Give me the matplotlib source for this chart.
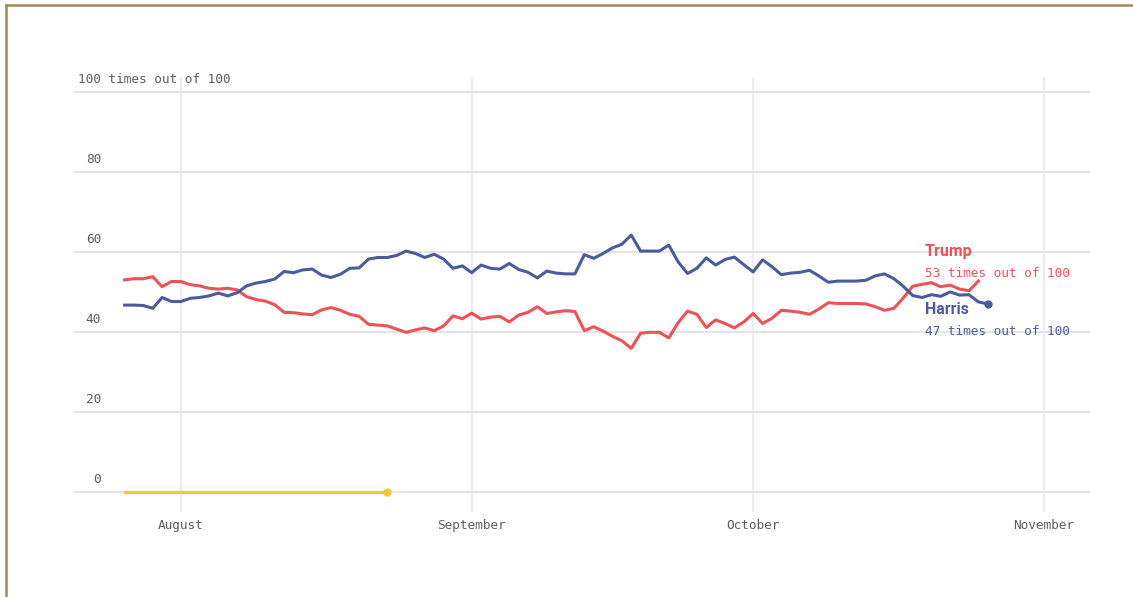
import numpy as np
import pandas as pd
import matplotlib
matplotlib.use("Agg")
import matplotlib.pyplot as plt
import matplotlib.dates as mdates
from matplotlib.lines import Line2D

# ---------------- data ----------------
start_date = "2024-07-26"
harris = [46.8, 46.8, 46.7, 46.0, 48.7, 47.7, 47.7, 48.5, 48.7, 49.1,
          49.8, 49.1, 49.9, 51.6, 52.3, 52.7, 53.3, 55.2, 54.9, 55.6,
          55.8, 54.3, 53.7, 54.5, 56.0, 56.1, 58.3, 58.7, 58.7, 59.2,
          60.3, 59.7, 58.7, 59.5, 58.3, 56.0, 56.6, 54.9, 56.8, 56.0,
          55.8, 57.2, 55.7, 55.0, 53.6, 55.3, 54.8, 54.6, 54.6, 59.4,
          58.5, 59.7, 61.1, 62.0, 64.3, 60.3, 60.3, 60.3, 61.8, 57.6,
          54.7, 56.0, 58.6, 56.8, 58.2, 58.8, 56.9, 55.1, 58.1, 56.4,
          54.4, 54.8, 55.0, 55.5, 54.1, 52.5, 52.8, 52.8, 52.8, 53.0,
          54.1, 54.6, 53.4, 51.5, 49.2, 48.7, 49.4, 49.0, 50.1, 49.3,
          49.4, 47.6, 47.1]
trump = [53.1, 53.4, 53.4, 53.9, 51.4, 52.7, 52.7, 51.9, 51.6, 51.0,
         50.8, 51.0, 50.6, 48.9, 48.2, 47.8, 46.9, 45.0, 44.9, 44.6,
         44.4, 45.6, 46.2, 45.5, 44.5, 44.0, 42.0, 41.8, 41.6, 40.8,
         40.0, 40.6, 41.1, 40.4, 41.6, 44.1, 43.4, 44.8, 43.3, 43.8,
         44.0, 42.6, 44.3, 45.0, 46.4, 44.7, 45.1, 45.4, 45.2, 40.4,
         41.4, 40.3, 39.0, 37.9, 36.0, 39.8, 40.0, 40.0, 38.6, 42.4,
         45.3, 44.5, 41.2, 43.1, 42.2, 41.1, 42.6, 44.7, 42.2, 43.5,
         45.5, 45.3, 45.0, 44.5, 45.8, 47.4, 47.2, 47.2, 47.2, 47.1,
         46.4, 45.5, 46.0, 48.6, 51.5, 52.0, 52.4, 51.4, 51.8, 50.8,
         50.4, 52.8]
other_dates = ["2024-07-26", "2024-08-23"]
other_values = [0, 0]

month_ticks = ["2024-08-01", "2024-09-01", "2024-10-01", "2024-11-01"]
month_labels = ["August", "September", "October", "November"]
y_ticks = [0, 20, 40, 60, 80, 100]
y_labels = ["0", "20", "40", "60", "80", "100 times out of 100"]

# ---------------- style ----------------
RED = "#ee5257"
BLUE = "#4c5b9e"
YELLOW = "#f4c73a"
GRID = "#e2e2e2"
LABEL = "#5e5e5e"
MONO = ["DejaVu Sans Mono"]
SANS = ["Roboto", "DejaVu Sans"]

harris_dates = pd.date_range(start_date, periods=len(harris), freq="D")
trump_dates = pd.date_range(start_date, periods=len(trump), freq="D")
other_d = pd.to_datetime(other_dates)
month_d = pd.to_datetime(month_ticks)

W, H = 1133, 597
fig = plt.figure(figsize=(W / 100, H / 100), dpi=100)
fig.patch.set_facecolor("white")

# axes area in pixels: x 73..1090, y 77..512
ax = fig.add_axes([73 / W, 1 - 512 / H, (1090 - 73) / W, (512 - 77) / H])
ax.set_facecolor("white")
aug1 = pd.Timestamp("2024-08-01")
ax.set_xlim(aug1 - pd.Timedelta(days=11.5), aug1 + pd.Timedelta(days=96.9))
ax.set_ylim(-4.9, 103.8)
for s in ax.spines.values():
    s.set_visible(False)
ax.set_xticks([])
ax.set_yticks([])

for yv in y_ticks:
    ax.axhline(yv, color=GRID, lw=1.3, zorder=0)
for d in month_d:
    ax.axvline(d, color="#e8e8e8", lw=1.1, zorder=0)

# y labels
ytr = ax.get_yaxis_transform()
for yv, lab in zip(y_ticks, y_labels):
    if yv == 100:
        ax.text(0.005, yv + 3.2, lab, transform=ytr, ha="left", va="center",
                fontsize=9.2, color=LABEL, family=MONO)
    else:
        ax.text(0.0275, yv + 3.2, lab, transform=ytr, ha="right", va="center",
                fontsize=9.2, color=LABEL, family=MONO)

# month labels
xtr = ax.get_xaxis_transform()
for d, lab in zip(month_d, month_labels):
    ax.text(d, -0.03, lab, transform=xtr, ha="center", va="center",
            fontsize=9.2, color=LABEL, family=MONO)

# lines
ax.plot(other_d, other_values, color=YELLOW, lw=2.4, clip_on=False, zorder=3,
        solid_capstyle="round")
ax.plot(other_d[-1:], other_values[-1:], "o", color=YELLOW, ms=5, clip_on=False, zorder=3)
ax.plot(trump_dates, trump, color=RED, lw=2.2, zorder=3, solid_joinstyle="round")
ax.plot(harris_dates, harris, color=BLUE, lw=2.2, zorder=4, solid_joinstyle="round")
ax.plot(harris_dates[-1:], harris[-1:], "o", color=BLUE, ms=5, zorder=4)

# end labels
lx = (925 - 73) / (1090 - 73)
ax.text(lx, 60.1, "Trump", transform=ytr, ha="left", va="center", fontsize=11.5,
        color=RED, family=SANS, fontweight="bold", zorder=5)
ax.text(lx, 54.6, f"{round(trump[-1])} times out of 100", transform=ytr, ha="left",
        va="center", fontsize=9.2, color=RED, family=MONO, zorder=5)
ax.text(lx, 45.6, "Harris", transform=ytr, ha="left", va="center", fontsize=11.5,
        color=BLUE, family=SANS, fontweight="bold", zorder=5)
ax.text(lx, 40.3, f"{round(harris[-1])} times out of 100", transform=ytr, ha="left",
        va="center", fontsize=9.2, color=BLUE, family=MONO, zorder=5)

# frame lines (top and left) of the original image
BORDER = "#9a8a55"
fig.add_artist(Line2D([6 / W, 1], [1 - 5 / H, 1 - 5 / H], transform=fig.transFigure,
                      color=BORDER, lw=1.8))
fig.add_artist(Line2D([6 / W, 6 / W], [0, 1 - 5 / H], transform=fig.transFigure,
                      color=BORDER, lw=1.8))

fig.savefig("out.png", dpi=100, facecolor="white")
